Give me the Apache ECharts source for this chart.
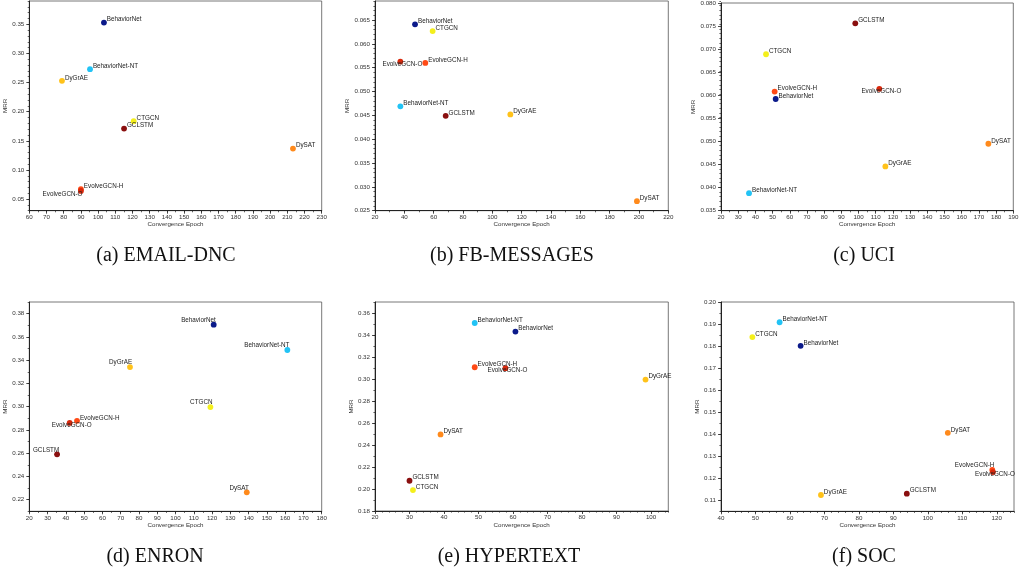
<!DOCTYPE html>
<html><head><meta charset="utf-8">
<script src="https://cdn.jsdelivr.net/npm/echarts@6/dist/echarts.min.js"></script>
<style>html,body{margin:0;padding:0;background:#fff}#c{width:1024px;height:575px}</style>
</head><body><div id="c"></div>
<script>
// ---------------- DATA ----------------
const methods = ['BehaviorNet','BehaviorNet-NT','DyGrAE','CTGCN','GCLSTM','DySAT','EvolveGCN-H','EvolveGCN-O'];

const epochEmail = [103.4, 95.3, 79.0, 120.7, 115.1, 213.3, 90.0, 90.0];
const mrrEmail   = [0.353, 0.273, 0.253, 0.1836, 0.171, 0.1366, 0.067, 0.064];

const epochFb = [47.3, 37.3, 112.3, 59.3, 68.2, 198.6, 54.3, 37.3];
const mrrFb   = [0.0641, 0.0469, 0.0452, 0.0627, 0.0449, 0.0270, 0.0560, 0.0563];

const epochUci = [51.8, 36.3, 115.6, 46.2, 98.1, 175.5, 51.2, 112.1];
const mrrUci   = [0.0592, 0.0388, 0.0446, 0.0689, 0.0756, 0.0495, 0.0608, 0.0614];

const epochEnron = [120.9, 161.2, 75.1, 119.1, 35.2, 139.0, 46.1, 42.1];
const mrrEnron   = [0.3705, 0.3487, 0.334, 0.2996, 0.259, 0.2263, 0.2878, 0.286];

const epochHyper = [60.7, 48.9, 98.4, 31.0, 30.0, 39.0, 48.9, 57.8];
const mrrHyper   = [0.3431, 0.3509, 0.2995, 0.199, 0.2075, 0.2496, 0.3107, 0.3098];

const epochSoc = [63.1, 57.0, 69.0, 49.1, 93.9, 105.8, 118.7, 118.9];
const mrrSoc   = [0.1801, 0.1908, 0.1124, 0.1841, 0.113, 0.1406, 0.1238, 0.1228];

const captions = ['(a) EMAIL-DNC','(b) FB-MESSAGES','(c) UCI','(d) ENRON','(e) HYPERTEXT','(f) SOC'];

const xTicksEmail = [60,70,80,90,100,110,120,130,140,150,160,170,180,190,200,210,220,230];
const yTicksEmail = [0.05,0.10,0.15,0.20,0.25,0.30,0.35];
const xTicksFb = [20,40,60,80,100,120,140,160,180,200,220];
const yTicksFb = [0.025,0.030,0.035,0.040,0.045,0.050,0.055,0.060,0.065];
const xTicksUci = [20,30,40,50,60,70,80,90,100,110,120,130,140,150,160,170,180,190];
const yTicksUci = [0.035,0.040,0.045,0.050,0.055,0.060,0.065,0.070,0.075,0.080];
const xTicksEnron = [20,30,40,50,60,70,80,90,100,110,120,130,140,150,160,170,180];
const yTicksEnron = [0.22,0.24,0.26,0.28,0.30,0.32,0.34,0.36,0.38];
const xTicksHyper = [20,30,40,50,60,70,80,90,100];
const yTicksHyper = [0.18,0.20,0.22,0.24,0.26,0.28,0.30,0.32,0.34,0.36];
const xTicksSoc = [40,50,60,70,80,90,100,110,120];
const yTicksSoc = [0.11,0.12,0.13,0.14,0.15,0.16,0.17,0.18,0.19,0.20];

// ---------------- STYLE / LAYOUT ----------------
const colors = {
  'BehaviorNet':'#0b1a8a','BehaviorNet-NT':'#22c3f5','DyGrAE':'#ffc21a','CTGCN':'#f4ef1c',
  'GCLSTM':'#8a0f0f','DySAT':'#ff8a1c','EvolveGCN-H':'#ff4a16','EvolveGCN-O':'#d8280c'
};
const panels = [
  {xs:epochEmail, ys:mrrEmail, xt:xTicksEmail, yt:yTicksEmail, rect:[29.3,1,292.4,209.7], xr:[60,230], yr:[0.03,0.39], xm:5, ym:0.01, dec:2, cap:[166,256], place:{'EvolveGCN-O':'bl'}},
  {xs:epochFb, ys:mrrFb, xt:xTicksFb, yt:yTicksFb, rect:[375,1,293.3,209.7], xr:[20,220], yr:[0.025,0.069], xm:10, ym:0.001, dec:3, cap:[512,256], place:{'EvolveGCN-O':'bc'}},
  {xs:epochUci, ys:mrrUci, xt:xTicksUci, yt:yTicksUci, rect:[721,1,292.3,209.7], xr:[20,190], yr:[0.035,0.080], xm:5, ym:0.001, dec:3, cap:[864,256], place:{'EvolveGCN-O':'bc'}},
  {xs:epochEnron, ys:mrrEnron, xt:xTicksEnron, yt:yTicksEnron, rect:[29.3,302,292.4,209.3], xr:[20,180], yr:[0.21,0.39], xm:5, ym:0.01, dec:2, cap:[155,557], place:{'BehaviorNet':'tl','BehaviorNet-NT':'tl','DyGrAE':'tl','CTGCN':'tl','GCLSTM':'tl','DySAT':'tl','EvolveGCN-O':'bc'}},
  {xs:epochHyper, ys:mrrHyper, xt:xTicksHyper, yt:yTicksHyper, rect:[375,302,293.3,209], xr:[20,105], yr:[0.18,0.37], xm:2, ym:0.01, dec:2, cap:[509,557], place:{'EvolveGCN-O':'bc'}},
  {xs:epochSoc, ys:mrrSoc, xt:xTicksSoc, yt:yTicksSoc, rect:[721,302,293,209.3], xr:[40,125], yr:[0.105,0.20], xm:2, ym:0.005, dec:2, cap:[864,557], place:{'EvolveGCN-H':'tl','EvolveGCN-O':'bc'}}
];
const SYM = 5.8;
const labelFor = {
  tr:{position:'right', distance:0, offset:[0,-3]},
  tl:{position:'left', distance:0, offset:[5,-4.5]},
  bc:{position:'bottom', distance:0, offset:[2,-3.6]},
  bl:{position:'left', distance:0, offset:[4.5,3]}
};
const FONT = 'Liberation Sans, Arial, sans-serif';
const tickFont = {fontSize:6.2, color:'#333', fontFamily:FONT};
const axisColor = '#222';

const grid = [], xAxis = [], yAxis = [], series = [], graphic = [];
panels.forEach((p,i)=>{
  const [l,t,w,h] = p.rect;
  grid.push({left:l, top:t, width:w, height:h, show:true, borderColor:'#555', borderWidth:0.8, backgroundColor:'transparent'});
});
panels.forEach((p,i)=>{
  const [l,t,w,h] = p.rect;
  grid.push({left:l, top:t, width:w, height:h, show:false});
});
panels.forEach((p,i)=>{
  xAxis.push({gridIndex:i, type:'value', min:p.xr[0], max:p.xr[1],
    axisLine:{show:true, onZero:false, lineStyle:{color:axisColor, width:1}},
    axisTick:{show:true, customValues:p.xt, length:3, lineStyle:{color:axisColor, width:0.8}},
    axisLabel:{customValues:p.xt, margin:3.5, ...tickFont, formatter:v=>String(Math.round(v))},
    splitLine:{show:false},
    name:'Convergence Epoch', nameLocation:'middle', nameGap:11, nameTextStyle:{fontSize:6.2, color:'#333', fontFamily:FONT}
  });
  yAxis.push({gridIndex:i, type:'value', min:p.yr[0], max:p.yr[1],
    axisLine:{show:true, onZero:false, lineStyle:{color:axisColor, width:1}},
    axisTick:{show:true, customValues:p.yt, length:3, lineStyle:{color:axisColor, width:0.8}},
    axisLabel:{customValues:p.yt, margin:5, ...tickFont, formatter:v=>v.toFixed(p.dec)},
    splitLine:{show:false},
    name:'MRR', nameLocation:'middle', nameGap:18, nameTextStyle:{fontSize:6.2, color:'#333', fontFamily:FONT}
  });
});
panels.forEach((p,i)=>{
  xAxis.push({gridIndex:i+6, type:'value', min:p.xr[0], max:p.xr[1], interval:p.xm,
    axisLine:{show:false, onZero:false}, axisTick:{show:true, length:1.6, lineStyle:{color:axisColor, width:0.7}},
    axisLabel:{show:false}, splitLine:{show:false}});
  yAxis.push({gridIndex:i+6, type:'value', min:p.yr[0], max:p.yr[1], interval:p.ym,
    axisLine:{show:false, onZero:false}, axisTick:{show:true, length:1.6, lineStyle:{color:axisColor, width:0.7}},
    axisLabel:{show:false}, splitLine:{show:false}});
});
panels.forEach((p,i)=>{
  series.push({type:'scatter', xAxisIndex:i, yAxisIndex:i, symbol:'circle', symbolSize:SYM,
    itemStyle:{opacity:1},
    label:{show:true, formatter:'{b}', fontSize:6.3, color:'#222', fontFamily:FONT},
    data: methods.map((m,j)=>({name:m, value:[p.xs[j], p.ys[j]], itemStyle:{color:colors[m], opacity:1},
      label: labelFor[(p.place && p.place[m]) || 'tr']}))
  });
  graphic.push({type:'text', x:p.cap[0], y:p.cap[1], style:{text:captions[i], font:'20px "Liberation Serif", serif', fill:'#111', textAlign:'center', textVerticalAlign:'middle'}});
});

const chart = echarts.init(document.getElementById('c'), null, {renderer:'canvas'});
chart.setOption({animation:false, backgroundColor:'#fff', grid, xAxis, yAxis, series, graphic});
</script></body></html>
